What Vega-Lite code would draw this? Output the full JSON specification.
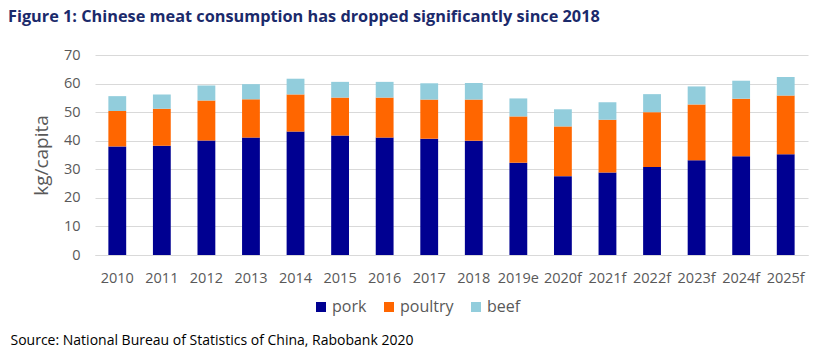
{
  "$schema": "https://vega.github.io/schema/vega-lite/v6.json",
  "width": 713,
  "height": 200,
  "autosize": {"type": "none"},
  "padding": {"left": 95, "top": 55, "right": 23, "bottom": 98},
  "background": "white",
  "title": {
    "text": "Figure 1: Chinese meat consumption has dropped significantly since 2018",
    "anchor": "start",
    "frame": "group",
    "dx": -87,
    "fontSize": 16.3,
    "fontWeight": "bold",
    "font": "Open Sans",
    "color": "#1B2A6B",
    "baseline": "middle",
    "offset": 14
  },
  "data": {
    "values": [
      {"year": "2010", "meat": "pork", "value": 38.0, "ord": 1},
      {"year": "2010", "meat": "poultry", "value": 12.4, "ord": 2},
      {"year": "2010", "meat": "beef", "value": 5.2, "ord": 3},
      {"year": "2011", "meat": "pork", "value": 38.2, "ord": 1},
      {"year": "2011", "meat": "poultry", "value": 13.0, "ord": 2},
      {"year": "2011", "meat": "beef", "value": 5.0, "ord": 3},
      {"year": "2012", "meat": "pork", "value": 40.1, "ord": 1},
      {"year": "2012", "meat": "poultry", "value": 14.0, "ord": 2},
      {"year": "2012", "meat": "beef", "value": 5.2, "ord": 3},
      {"year": "2013", "meat": "pork", "value": 41.1, "ord": 1},
      {"year": "2013", "meat": "poultry", "value": 13.4, "ord": 2},
      {"year": "2013", "meat": "beef", "value": 5.3, "ord": 3},
      {"year": "2014", "meat": "pork", "value": 43.2, "ord": 1},
      {"year": "2014", "meat": "poultry", "value": 13.0, "ord": 2},
      {"year": "2014", "meat": "beef", "value": 5.5, "ord": 3},
      {"year": "2015", "meat": "pork", "value": 41.8, "ord": 1},
      {"year": "2015", "meat": "poultry", "value": 13.3, "ord": 2},
      {"year": "2015", "meat": "beef", "value": 5.5, "ord": 3},
      {"year": "2016", "meat": "pork", "value": 41.1, "ord": 1},
      {"year": "2016", "meat": "poultry", "value": 14.0, "ord": 2},
      {"year": "2016", "meat": "beef", "value": 5.5, "ord": 3},
      {"year": "2017", "meat": "pork", "value": 40.7, "ord": 1},
      {"year": "2017", "meat": "poultry", "value": 13.7, "ord": 2},
      {"year": "2017", "meat": "beef", "value": 5.7, "ord": 3},
      {"year": "2018", "meat": "pork", "value": 40.0, "ord": 1},
      {"year": "2018", "meat": "poultry", "value": 14.4, "ord": 2},
      {"year": "2018", "meat": "beef", "value": 5.8, "ord": 3},
      {"year": "2019e", "meat": "pork", "value": 32.3, "ord": 1},
      {"year": "2019e", "meat": "poultry", "value": 16.2, "ord": 2},
      {"year": "2019e", "meat": "beef", "value": 6.3, "ord": 3},
      {"year": "2020f", "meat": "pork", "value": 27.6, "ord": 1},
      {"year": "2020f", "meat": "poultry", "value": 17.4, "ord": 2},
      {"year": "2020f", "meat": "beef", "value": 6.0, "ord": 3},
      {"year": "2021f", "meat": "pork", "value": 28.9, "ord": 1},
      {"year": "2021f", "meat": "poultry", "value": 18.4, "ord": 2},
      {"year": "2021f", "meat": "beef", "value": 6.2, "ord": 3},
      {"year": "2022f", "meat": "pork", "value": 30.8, "ord": 1},
      {"year": "2022f", "meat": "poultry", "value": 19.2, "ord": 2},
      {"year": "2022f", "meat": "beef", "value": 6.3, "ord": 3},
      {"year": "2023f", "meat": "pork", "value": 33.2, "ord": 1},
      {"year": "2023f", "meat": "poultry", "value": 19.5, "ord": 2},
      {"year": "2023f", "meat": "beef", "value": 6.3, "ord": 3},
      {"year": "2024f", "meat": "pork", "value": 34.6, "ord": 1},
      {"year": "2024f", "meat": "poultry", "value": 20.1, "ord": 2},
      {"year": "2024f", "meat": "beef", "value": 6.3, "ord": 3},
      {"year": "2025f", "meat": "pork", "value": 35.3, "ord": 1},
      {"year": "2025f", "meat": "poultry", "value": 20.5, "ord": 2},
      {"year": "2025f", "meat": "beef", "value": 6.5, "ord": 3}
    ]
  },
  "mark": {"type": "bar"},
  "encoding": {
    "x": {
      "field": "year",
      "type": "nominal",
      "sort": null,
      "scale": {"paddingInner": 0.6, "paddingOuter": 0.3},
      "axis": {
        "labelAngle": 0,
        "labelFont": "Open Sans",
        "labelFontSize": 14.5,
        "labelColor": "#595959",
        "labelPadding": 16,
        "ticks": false,
        "domainColor": "#D9D9D9",
        "title": "Source: National Bureau of Statistics of China, Rabobank 2020",
        "titleFont": "Open Sans",
        "titleFontSize": 14,
        "titleFontWeight": "normal",
        "titleColor": "#000000",
        "titleAnchor": "start",
        "titleAlign": "left",
        "titleBaseline": "middle",
        "titleX": -85,
        "titleY": 85
      }
    },
    "y": {
      "field": "value",
      "type": "quantitative",
      "stack": "zero",
      "scale": {"domain": [0, 70]},
      "axis": {
        "values": [0, 10, 20, 30, 40, 50, 60, 70],
        "labelFont": "Open Sans",
        "labelFontSize": 14.5,
        "labelColor": "#595959",
        "labelPadding": 15,
        "ticks": false,
        "domain": false,
        "gridColor": "#D9D9D9",
        "title": "kg/capita",
        "titleFont": "Open Sans",
        "titleFontSize": 19,
        "titleFontWeight": "normal",
        "titleColor": "#595959",
        "titleX": -54,
        "titleY": 100,
        "titleAngle": -90,
        "titleAlign": "center",
        "titleBaseline": "middle"
      }
    },
    "color": {
      "field": "meat",
      "type": "nominal",
      "scale": {"domain": ["pork", "poultry", "beef"], "range": ["#000091", "#FF6600", "#92CDDC"]},
      "legend": {
        "orient": "none",
        "direction": "horizontal",
        "legendX": 218,
        "legendY": 244,
        "title": null,
        "symbolType": "square",
        "symbolSize": 100,
        "symbolStrokeWidth": 0,
        "labelFont": "Open Sans",
        "labelFontSize": 16,
        "labelColor": "#595959",
        "labelOffset": 3,
        "columnPadding": 14
      }
    },
    "order": {"field": "ord", "type": "quantitative"}
  },
  "config": {"view": {"stroke": null}}
}
